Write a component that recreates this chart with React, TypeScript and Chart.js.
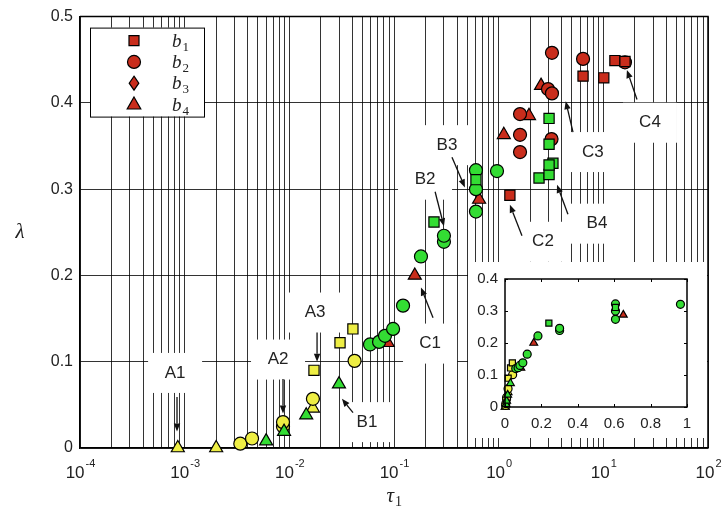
import React, { useEffect, useRef } from 'react';
import { Chart, registerables } from 'chart.js';

Chart.register(...registerables);

type Pt = [number, number];

// (tau_1, lambda) pairs, grouped by regime (A yellow, B green, C red) and series b1..b4
const A_B1: Pt[] = [[0.0172, 0.090], [0.0305, 0.122], [0.0405, 0.138]];
const A_B2: Pt[] = [[0.0034, 0.005], [0.0044, 0.011], [0.0087, 0.025], [0.0087, 0.030], [0.0168, 0.057], [0.042, 0.101]];
const A_B4: Pt[] = [[0.00086, 0.0], [0.0020, 0.0], [0.0168, 0.046]];

const B_B1: Pt[] = [[0.241, 0.262], [0.607, 0.311], [2.43, 0.313], [3.03, 0.317], [3.3, 0.330], [3.03, 0.328], [3.03, 0.352], [3.03, 0.382]];
const B_B2: Pt[] = [[0.059, 0.120], [0.072, 0.123], [0.082, 0.130], [0.098, 0.138], [0.122, 0.165], [0.181, 0.222], [0.30, 0.239], [0.30, 0.246], [0.607, 0.274], [0.607, 0.300], [0.607, 0.322], [0.964, 0.321]];
const B_B4: Pt[] = [[0.006, 0.008], [0.0089, 0.019], [0.0145, 0.038], [0.0298, 0.074]];

const C_B1: Pt[] = [[1.28, 0.293], [6.4, 0.431], [10.1, 0.429], [12.9, 0.449], [16.1, 0.448]];
const C_B2: Pt[] = [[1.6, 0.387], [1.6, 0.363], [1.6, 0.343], [3.2, 0.358], [2.96, 0.416], [3.23, 0.411], [3.23, 0.458], [6.4, 0.451], [16.1, 0.447]];
const C_B4: Pt[] = [[0.087, 0.122], [0.158, 0.200], [0.65, 0.288], [1.12, 0.363], [1.95, 0.385], [2.54, 0.420]];

// axis ticks
const X_DECADES = [1e-4, 1e-3, 1e-2, 1e-1, 1, 10, 100];
const X_DECADE_EXP = ['-4', '-3', '-2', '-1', '0', '1', '2'];
const Y_TICKS = [0, 0.1, 0.2, 0.3, 0.4, 0.5];
const Y_TICK_LABELS = ['0', '0.1', '0.2', '0.3', '0.4', '0.5'];
const INSET_X_TICKS = [0, 0.2, 0.4, 0.6, 0.8, 1];
const INSET_X_LABELS = ['0', '0.2', '0.4', '0.6', '0.8', '1'];
const INSET_Y_TICKS = [0, 0.1, 0.2, 0.3, 0.4];
const INSET_Y_LABELS = ['0', '0.1', '0.2', '0.3', '0.4'];

// callouts: label centre, arrow tail, arrow head (data coordinates)
const NOTE_LABELS = ['A1', 'A2', 'A3', 'B1', 'B2', 'B3', 'B4', 'C1', 'C2', 'C3', 'C4'];
const NOTE_AT: Pt[] = [[0.00081, 0.087], [0.0078, 0.1025], [0.0176, 0.157], [0.0552, 0.030], [0.198, 0.311], [0.321, 0.351], [8.69, 0.260], [0.221, 0.121], [2.65, 0.239], [7.96, 0.343], [27.9, 0.377]];
const NOTE_TAIL: Pt[] = [[0.000845, 0.059], [0.0087, 0.080], [0.0184, 0.134], [0.0406, 0.041], [0.247, 0.297], [0.358, 0.337], [4.59, 0.271], [0.236, 0.151], [1.67, 0.246], [5.13, 0.366], [20.97, 0.404]];
const NOTE_HEAD: Pt[] = [[0.000845, 0.019], [0.0087, 0.040], [0.0184, 0.100], [0.0318, 0.057], [0.300, 0.257], [0.476, 0.302], [3.61, 0.305], [0.181, 0.186], [1.28, 0.282], [4.37, 0.402], [16.8, 0.438]];

const LEGEND_SERIES = ['1', '2', '3', '4'];

const RED = '#c92d1c';
const GREEN = '#33dd33';
const YELLOW = '#eeee44';
const SANS = '"Liberation Sans", Arial, sans-serif';
const SERIF = '"Liberation Serif", "DejaVu Serif", serif';

const X_GRID: number[] = [];
for (let e = -4; e < 2; e++) for (let m = 1; m <= 9; m++) X_GRID.push(m * Math.pow(10, e));
X_GRID.push(100);

function series(data: Pt[], color: string, style: string, r: number, order: number) {
  return {
    data: data.map(([x, y]) => ({ x, y })),
    pointStyle: style,
    pointRadius: r,
    pointHoverRadius: r,
    pointBackgroundColor: color,
    pointBorderColor: '#000',
    pointBorderWidth: 1.2,
    showLine: false,
    clip: false,
    order,
  };
}

function buildSets(big: boolean, keep: (p: Pt) => boolean) {
  const rc = big ? 6.5 : 4;
  const rs = big ? 7.2 : 4.3;
  const rt = big ? 7.5 : 4.5;
  const f = (d: Pt[]) => d.filter(keep);
  return [
    series(f(C_B1), RED, 'rect', rs, 3),
    series(f(C_B2), RED, 'circle', rc, 3),
    series(f(C_B4), RED, 'triangle', rt, 3),
    series(f(A_B1), YELLOW, 'rect', rs, 2),
    series(f(A_B2), YELLOW, 'circle', rc, 2),
    series(f(A_B4), YELLOW, 'triangle', rt, 2),
    series(f(B_B1), GREEN, 'rect', rs, 1),
    series(f(B_B2), GREEN, 'circle', rc, 1),
    series(f(B_B4), GREEN, 'triangle', rt, 1),
  ];
}

function arrow(ctx: CanvasRenderingContext2D, x0: number, y0: number, x1: number, y1: number) {
  const a = Math.atan2(y1 - y0, x1 - x0);
  const hl = 8, hw = 3.2;
  const bx = x1 - Math.cos(a) * hl, by = y1 - Math.sin(a) * hl;
  ctx.beginPath();
  ctx.moveTo(x0, y0);
  ctx.lineTo(bx, by);
  ctx.stroke();
  ctx.beginPath();
  ctx.moveTo(x1, y1);
  ctx.lineTo(bx + Math.sin(a) * hw, by - Math.cos(a) * hw);
  ctx.lineTo(bx - Math.sin(a) * hw, by + Math.cos(a) * hw);
  ctx.closePath();
  ctx.fill();
}

function legendSymbol(ctx: CanvasRenderingContext2D, kind: number, x: number, y: number) {
  ctx.beginPath();
  if (kind === 0) ctx.rect(x - 5, y - 5, 10, 10);
  else if (kind === 1) ctx.arc(x, y, 6.5, 0, Math.PI * 2);
  else if (kind === 2) {
    ctx.moveTo(x, y - 7); ctx.lineTo(x + 4.8, y); ctx.lineTo(x, y + 7); ctx.lineTo(x - 4.8, y); ctx.closePath();
  } else {
    ctx.moveTo(x, y - 7.5); ctx.lineTo(x + 6.8, y + 4.5); ctx.lineTo(x - 6.8, y + 4.5); ctx.closePath();
  }
  ctx.fillStyle = RED;
  ctx.fill();
  ctx.lineWidth = 1.2;
  ctx.strokeStyle = '#000';
  ctx.stroke();
}

const mainDecor = {
  id: 'mainDecor',
  beforeDatasetsDraw(chart: any) {
    const { ctx, chartArea: ca } = chart;
    const xs = chart.scales.x, ys = chart.scales.y;
    ctx.save();
    ctx.fillStyle = '#fff';
    NOTE_AT.forEach(([x, y]) => {
      const px = xs.getPixelForValue(x), py = ys.getPixelForValue(y);
      ctx.fillRect(px - 27, py - 20, 54, 40);
    });
    // legend panel
    const lx = ca.left + 10, ly = ca.top + 11;
    ctx.fillRect(lx, ly, 114, 89);
    ctx.strokeStyle = '#000';
    ctx.lineWidth = 1;
    ctx.strokeRect(lx + 0.5, ly + 0.5, 114, 89);
    ctx.restore();
  },
  afterDatasetsDraw(chart: any) {
    const { ctx, chartArea: ca } = chart;
    const xs = chart.scales.x, ys = chart.scales.y;
    ctx.save();
    ctx.strokeStyle = '#111';
    ctx.fillStyle = '#111';
    ctx.lineWidth = 1.3;
    NOTE_TAIL.forEach(([x0, y0], i) => {
      const [x1, y1] = NOTE_HEAD[i];
      arrow(ctx, xs.getPixelForValue(x0), ys.getPixelForValue(y0), xs.getPixelForValue(x1), ys.getPixelForValue(y1));
    });
    ctx.font = `17px ${SANS}`;
    ctx.fillStyle = '#222';
    ctx.textAlign = 'center';
    ctx.textBaseline = 'middle';
    NOTE_LABELS.forEach((t, i) => {
      const [x, y] = NOTE_AT[i];
      ctx.fillText(t, xs.getPixelForValue(x), ys.getPixelForValue(y));
    });

    // legend entries
    const lx = ca.left + 10, ly = ca.top + 11;
    LEGEND_SERIES.forEach((s, i) => {
      const cy = ly + 13 + i * 21.3;
      legendSymbol(ctx, i, lx + 44, cy);
      ctx.fillStyle = '#222';
      ctx.textAlign = 'left';
      ctx.textBaseline = 'alphabetic';
      ctx.font = `italic 19px ${SERIF}`;
      ctx.fillText('b', lx + 82, cy + 6);
      const bw = ctx.measureText('b').width;
      ctx.font = `13px ${SERIF}`;
      ctx.fillText(s, lx + 82 + bw + 1, cy + 10);
    });

    // closing frame
    ctx.strokeStyle = '#000';
    ctx.lineWidth = 1.5;
    ctx.beginPath();
    ctx.moveTo(ca.left, ca.top);
    ctx.lineTo(ca.right, ca.top);
    ctx.lineTo(ca.right, ca.bottom);
    ctx.stroke();
    ctx.restore();
  },
  afterDraw(chart: any) {
    const { ctx, chartArea: ca } = chart;
    const xs = chart.scales.x;
    ctx.save();
    ctx.fillStyle = '#222';
    ctx.textBaseline = 'alphabetic';
    ctx.textAlign = 'left';
    X_DECADES.forEach((v, i) => {
      const px = xs.getPixelForValue(v);
      ctx.font = `17px ${SANS}`;
      const w1 = ctx.measureText('10').width;
      ctx.font = `11px ${SANS}`;
      const w2 = ctx.measureText(X_DECADE_EXP[i]).width;
      const left = px - (w1 + w2) / 2;
      ctx.font = `17px ${SANS}`;
      ctx.fillText('10', left, ca.bottom + 30);
      ctx.font = `11px ${SANS}`;
      ctx.fillText(X_DECADE_EXP[i], left + w1 + 1, ca.bottom + 19);
    });
    // axis titles
    ctx.font = `italic 21px ${SERIF}`;
    ctx.textAlign = 'center';
    ctx.textBaseline = 'middle';
    ctx.fillText('\u03bb', 20, (ca.top + ca.bottom) / 2);
    const cx = (ca.left + ca.right) / 2;
    const tw = ctx.measureText('\u03c4').width;
    ctx.textAlign = 'left';
    ctx.fillText('\u03c4', cx - tw, ca.bottom + 48);
    ctx.font = `14px ${SERIF}`;
    ctx.fillText('1', cx + 1, ca.bottom + 54);
    ctx.restore();
  },
};

const insetDecor = {
  id: 'insetDecor',
  afterDraw(chart: any) {
    const { ctx, chartArea: ca } = chart;
    const xs = chart.scales.x, ys = chart.scales.y;
    ctx.save();
    ctx.strokeStyle = '#000';
    ctx.lineWidth = 1.5;
    ctx.strokeRect(ca.left, ca.top, ca.right - ca.left, ca.bottom - ca.top);
    ctx.lineWidth = 1;
    ctx.beginPath();
    INSET_X_TICKS.forEach((v) => {
      const px = Math.round(xs.getPixelForValue(v)) + 0.5;
      ctx.moveTo(px, ca.bottom); ctx.lineTo(px, ca.bottom - 3);
      ctx.moveTo(px, ca.top); ctx.lineTo(px, ca.top + 3);
    });
    INSET_Y_TICKS.forEach((v) => {
      const py = Math.round(ys.getPixelForValue(v)) + 0.5;
      ctx.moveTo(ca.left, py); ctx.lineTo(ca.left + 3, py);
      ctx.moveTo(ca.right, py); ctx.lineTo(ca.right - 3, py);
    });
    ctx.stroke();
    ctx.restore();
  },
};

export default function App() {
  const mainRef = useRef<HTMLCanvasElement>(null);
  const insetRef = useRef<HTMLCanvasElement>(null);

  useEffect(() => {
    const main = new Chart(mainRef.current as HTMLCanvasElement, {
      type: 'scatter',
      data: { datasets: buildSets(true, () => true) as any },
      options: {
        animation: false,
        responsive: false,
        maintainAspectRatio: false,
        events: [],
        layout: { padding: { top: 9, right: 15, left: 0, bottom: 0 } },
        plugins: { legend: { display: false }, tooltip: { enabled: false } },
        scales: {
          x: {
            type: 'logarithmic',
            min: 1e-4,
            max: 1e2,
            afterBuildTicks: (s: any) => { s.ticks = X_GRID.map((v) => ({ value: v })); },
            afterFit: (s: any) => { s.height = 66; },
            ticks: { display: false, autoSkip: false },
            grid: { color: 'rgba(0,0,0,0.8)', lineWidth: 1, drawTicks: false },
            border: { display: true, color: '#000', width: 1.5 },
          },
          y: {
            type: 'linear',
            min: 0,
            max: 0.5,
            afterBuildTicks: (s: any) => { s.ticks = Y_TICKS.map((v) => ({ value: v })); },
            afterFit: (s: any) => { s.width = 80; },
            ticks: {
              autoSkip: false,
              padding: 7,
              color: '#222',
              font: { family: SANS, size: 16 },
              callback: (_v: any, i: number) => Y_TICK_LABELS[i],
            },
            grid: { color: 'rgba(0,0,0,0.8)', lineWidth: 1, drawTicks: false },
            border: { display: true, color: '#000', width: 1.5 },
          },
        },
      } as any,
      plugins: [mainDecor],
    });

    const inset = new Chart(insetRef.current as HTMLCanvasElement, {
      type: 'scatter',
      data: { datasets: buildSets(false, (p) => p[0] <= 1) as any },
      options: {
        animation: false,
        responsive: false,
        maintainAspectRatio: false,
        events: [],
        layout: { padding: { top: 17, right: 20, left: 0, bottom: 0 } },
        plugins: { legend: { display: false }, tooltip: { enabled: false } },
        scales: {
          x: {
            type: 'linear',
            min: 0,
            max: 1,
            afterBuildTicks: (s: any) => { s.ticks = INSET_X_TICKS.map((v) => ({ value: v })); },
            afterFit: (s: any) => { s.height = 31; },
            ticks: {
              autoSkip: false,
              maxRotation: 0,
              padding: 8,
              color: '#222',
              font: { family: SANS, size: 15 },
              callback: (_v: any, i: number) => INSET_X_LABELS[i],
            },
            grid: { display: false, drawTicks: false },
            border: { display: false },
          },
          y: {
            type: 'linear',
            min: 0,
            max: 0.4,
            afterBuildTicks: (s: any) => { s.ticks = INSET_Y_TICKS.map((v) => ({ value: v })); },
            afterFit: (s: any) => { s.width = 37; },
            ticks: {
              autoSkip: false,
              padding: 7,
              color: '#222',
              font: { family: SANS, size: 15 },
              callback: (_v: any, i: number) => INSET_Y_LABELS[i],
            },
            grid: { display: false, drawTicks: false },
            border: { display: false },
          },
        },
      } as any,
      plugins: [insetDecor],
    });

    return () => {
      main.destroy();
      inset.destroy();
    };
  }, []);

  return (
    <div style={{ position: 'absolute', left: 0, top: 0, width: 723, height: 514, background: '#fff' }}>
      <canvas
        ref={mainRef}
        width={723}
        height={514}
        style={{ position: 'absolute', left: 0, top: 0, width: 723, height: 514 }}
      />
      <canvas
        ref={insetRef}
        width={239}
        height={176}
        style={{ position: 'absolute', left: 468, top: 262, width: 239, height: 176, background: '#fff' }}
      />
    </div>
  );
}
